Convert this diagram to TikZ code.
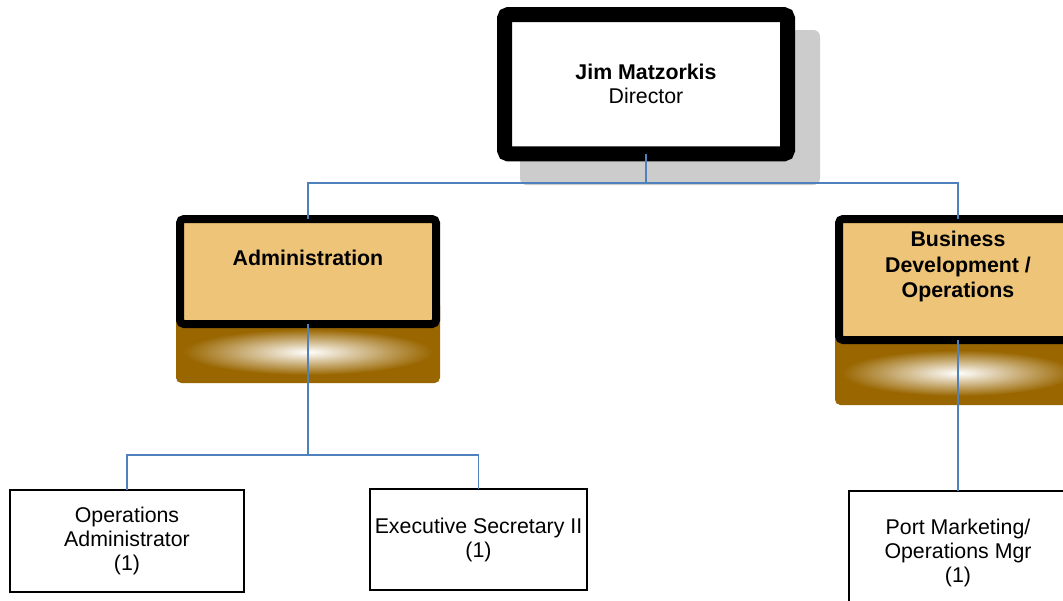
\documentclass[tikz,border=0pt]{standalone}
\usepackage{fontspec}
\setmainfont{Liberation Sans}
\usetikzlibrary{positioning, calc}

\definecolor{linkblue}{RGB}{79,129,189}
\definecolor{deptfill}{RGB}{238,196,120}
\definecolor{deptbrown}{RGB}{153,102,0}
\definecolor{shadowgray}{RGB}{204,204,204}

\begin{document}
\begin{tikzpicture}[
  x=0.75pt, y=-0.75pt,
  font=\fontsize{16}{18}\selectfont,
  frame/.style={draw=black, rounded corners=3pt, inner sep=0pt, outer sep=0pt},
  head/.style={frame, line width=11.25pt, fill=white, align=center},
  dept/.style={frame, line width=6pt, fill=deptfill},
  title/.style={font=\fontsize{16}{19}\selectfont\bfseries, align=center},
  post/.style={draw=black, line width=1.1pt, fill=white, align=center, inner sep=0pt, outer sep=0pt},
  link/.style={draw=linkblue, line width=1.2pt},
  base/.style={fill=deptbrown, rounded corners=4pt},
  glow/.style={inner color=white, outer color=deptbrown}
]
  \useasboundingbox (0,0) rectangle (1063,600);

  % Director shadow
  \fill[shadowgray, rounded corners=5pt] (520,30) rectangle (820,185);

  % Brown bases with glow
  \fill[base] (176,300) rectangle (440,383);
  \shade[glow] (308,352) ellipse (125 and 23);
  \fill[base] (835,320) rectangle (1085,405);
  \shade[glow] (958,373) ellipse (117 and 23);

  % Director
  \node[head, minimum width=212.25pt, minimum height=104.6pt] (dir) at (646,84.25)
    {\textbf{Jim Matzorkis}\\Director};

  % Departments
  \node[dept, minimum width=192pt, minimum height=78.75pt] (adm) at (308,271.5) {};
  \node[title] (admtext) at (308,258) {Administration};
  \node[dept, minimum width=178.5pt, minimum height=90.75pt] (biz) at (958,279.5) {};
  \node[title] (biztext) at (958,266.5) {Business\\Development /\\Operations};

  % Posts
  \node[post, minimum width=175.5pt, minimum height=76.5pt] (opsadm) at (127,541)
    {Operations\\Administrator\\(1)};
  \node[post, minimum width=162.75pt, minimum height=75.75pt] (execsec) at (478.5,539.5)
    {Executive Secretary II\\(1)};
  \node[post, minimum width=163.5pt, minimum height=93pt] (portmgr) at (958,553)
    {Port Marketing/\\Operations Mgr\\(1)};

  % Connectors
  \coordinate (toprail) at (646,183);
  \coordinate (admrail) at (308,455);
  \draw[link] (dir.south) -- (toprail) -| (adm.north);
  \draw[link] (toprail) -| (biz.north);
  \draw[link] (adm.south) -- (admrail) -| (opsadm.north);
  \draw[link] (admrail) -| (execsec.north);
  \draw[link] (biz.south) -- (portmgr.north);
\end{tikzpicture}
\end{document}
